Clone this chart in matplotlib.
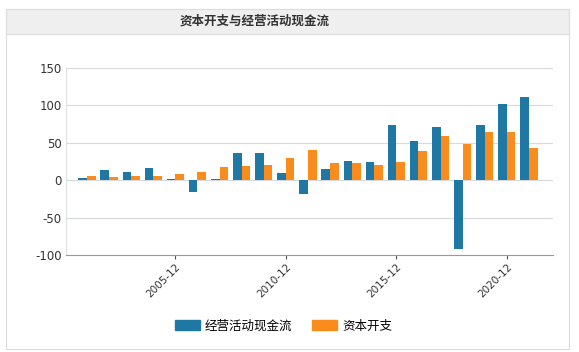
import numpy as np
import matplotlib
matplotlib.use('Agg')
import matplotlib.pyplot as plt
from matplotlib.patches import Rectangle, Patch

plt.rcParams['font.family'] = ['Noto Sans CJK SC', 'DejaVu Sans']
plt.rcParams['axes.unicode_minus'] = False

# data (亿元)
years = list(range(2001, 2022))
ocf = [3, 13.5, 11, 16, 1.5, -15.5, 2, 36, 36, 9.5, -18, 15, 26, 24, 73.5, 53, 71, -92, 74, 102, 111.5]
capex = [6, 4, 6, 6, 8.5, 11, 18, 19, 20, 30, 40, 23, 23, 20, 24, 39.5, 59, 49, 64.5, 64.5, 43.5]
tick_years = [2005, 2010, 2015, 2020]
tick_labels = ['2005-12', '2010-12', '2015-12', '2020-12']

c_blue = '#1f78a4'
c_orange = '#fa8c1e'

fig = plt.figure(figsize=(5.79, 3.52), dpi=100)

# outer frame + header bar
fig.patches.append(Rectangle((6/579, 1-349/352), 563/579, 340/352, transform=fig.transFigure,
                             facecolor='white', edgecolor='#dcdcdc', lw=0.8, zorder=0))
fig.patches.append(Rectangle((6/579, 1-34/352), 563/579, 25/352, transform=fig.transFigure,
                             facecolor='#efefef', edgecolor='#dcdcdc', lw=0.8, zorder=1))
fig.text(0.44, 1-21.5/352, '资本开支与经营活动现金流', ha='center', va='center',
         fontsize=9, fontweight='bold', color='#333333', zorder=6)

ax = fig.add_axes([66/579, 1-255/352, (553-66)/579, (255-68)/352])
ax.set_zorder(5)
ax.patch.set_alpha(0)
x = np.arange(len(years))
w = 0.39
ax.bar(x - w/2, ocf, w, color=c_blue, label='经营活动现金流', zorder=3)
ax.bar(x + w/2, capex, w, color=c_orange, label='资本开支', zorder=3)

ax.set_ylim(-100, 150)
ax.set_yticks([-100, -50, 0, 50, 100, 150])
ax.set_xlim(-0.95, len(years) + 0.09)
ax.set_xticks([years.index(y) for y in tick_years])
ax.set_xticklabels(tick_labels, rotation=45, ha='right', rotation_mode='anchor')
ax.grid(axis='y', color='#d8d8e0', lw=0.8, zorder=0)
for s in ['top', 'right']:
    ax.spines[s].set_visible(False)
ax.spines['left'].set_color('#dde0e6')
ax.spines['left'].set_linewidth(0.8)
ax.spines['bottom'].set_color('#999999')
ax.spines['bottom'].set_linewidth(0.8)
ax.tick_params(axis='y', length=0, pad=3, labelsize=8.5, labelcolor='#333333')
ax.tick_params(axis='x', length=3, width=0.8, color='#555555', pad=2, labelsize=7.5, labelcolor='#333333')
for lab in ax.get_yticklabels() + ax.get_xticklabels():
    lab.set_family('DejaVu Sans')

handles = [Patch(color=c_blue), Patch(color=c_orange)]
leg = fig.legend(handles, ['经营活动现金流', '资本开支'], loc='center', bbox_to_anchor=(0.49, 1-326/352),
                 ncol=2, frameon=False, fontsize=9, handlelength=2.0, handleheight=0.8,
                 columnspacing=1.6, handletextpad=0.4)
leg.set_zorder(6)

fig.savefig('out.png', dpi=100)
